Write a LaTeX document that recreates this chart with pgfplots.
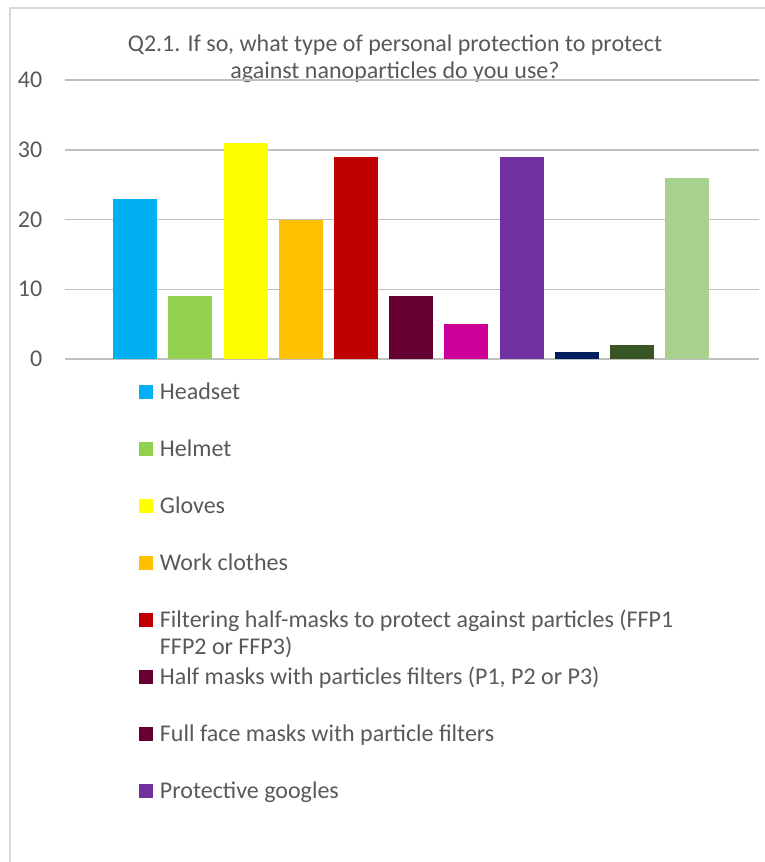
\documentclass[border=0pt]{standalone}
\usepackage{fontspec}
\setmainfont{Carlito}
\usepackage{pgfplots}
\pgfplotsset{compat=1.18}
\definecolor{txt}{HTML}{595959}
\definecolor{grid}{HTML}{D9D9D9}
\definecolor{c1}{HTML}{00B0F0}
\definecolor{c2}{HTML}{92D050}
\definecolor{c3}{HTML}{FFFF00}
\definecolor{c4}{HTML}{FFC000}
\definecolor{c5}{HTML}{C00000}
\definecolor{c6}{HTML}{660033}
\definecolor{c7}{HTML}{CC0099}
\definecolor{c8}{HTML}{7030A0}
\definecolor{c9}{HTML}{002060}
\definecolor{c10}{HTML}{375623}
\definecolor{c11}{HTML}{A9D18E}
\pgfplotsset{
  B/.style={ybar, bar shift=0pt, bar width=0.797, draw=none, fill=#1,
    legend image code/.code={\fill[#1] (0bp,13.5bp) rectangle (14bp,27.5bp);}},
}
\begin{document}
\begin{tikzpicture}
\path[use as bounding box] (0,0) rectangle (765bp,-862bp);
\draw[grid, line width=2bp] (10bp,-862bp) -- (10bp,-7.7bp) -- (766bp,-7.7bp);
\node[anchor=base, text=txt, font=\fontsize{24bp}{27bp}\selectfont, inner sep=0pt]
  at (395bp,-51bp) {Q2.1. If so, what type of personal protection to protect};
\node[anchor=base, text=txt, font=\fontsize{24bp}{27bp}\selectfont, inner sep=0pt]
  at (395bp,-78bp) {against nanoparticles do you use?};
\begin{axis}[
  at={(65bp,-359bp)}, anchor=south west,
  scale only axis, width=694bp, height=279bp,
  xmin=-0.270, xmax=12.302, ymin=0, ymax=40,
  xtick=\empty, ytick={0,10,20,30,40},
  ymajorgrids, grid style={grid, line width=1.5bp},
  axis line style={draw=none},
  major tick length=0pt,
  /pgf/number format/assume math mode=true,
  yticklabel style={anchor=east, inner sep=0pt, xshift=-22.5bp, text=txt,
    font=\fontsize{24bp}{27bp}\selectfont},
  legend style={draw=none, fill=none, inner sep=0pt, outer sep=0pt,
    at={(axis description cs:0.1066,-0.0896)}, anchor=north west,
    row sep=0pt, column sep=7bp, text=txt,
    font=\fontsize{24bp}{27.5bp}\selectfont,
    nodes={inner sep=0pt, text height=15bp, text depth=42bp}},
  legend cell align=left,
]
\addplot[B=c1] coordinates {(1,23)};
\addlegendentry{Headset}
\addplot[B=c2] coordinates {(2,9)};
\addlegendentry{Helmet}
\addplot[B=c3] coordinates {(3,31)};
\addlegendentry{Gloves}
\addplot[B=c4] coordinates {(4,20)};
\addlegendentry{Work clothes}
\addplot[B=c5] coordinates {(5,29)};
\addlegendentry{\parbox[t]{590bp}{Filtering half-masks to protect against particles (FFP1\\FFP2 or FFP3)}}
\addplot[B=c6] coordinates {(6,9)};
\addlegendentry{Half masks with particles filters (P1, P2 or P3)}
\addplot[B=c7, legend image code/.code={\fill[c6] (0bp,13.5bp) rectangle (14bp,27.5bp);}] coordinates {(7,5)};
\addlegendentry{Full face masks with particle filters}
\addplot[B=c8] coordinates {(8,29)};
\addlegendentry{Protective googles}
\addplot[B=c9, forget plot] coordinates {(9,1)};
\addplot[B=c10, forget plot] coordinates {(10,2)};
\addplot[B=c11, forget plot] coordinates {(11,26)};
\end{axis}
\end{tikzpicture}
\end{document}
